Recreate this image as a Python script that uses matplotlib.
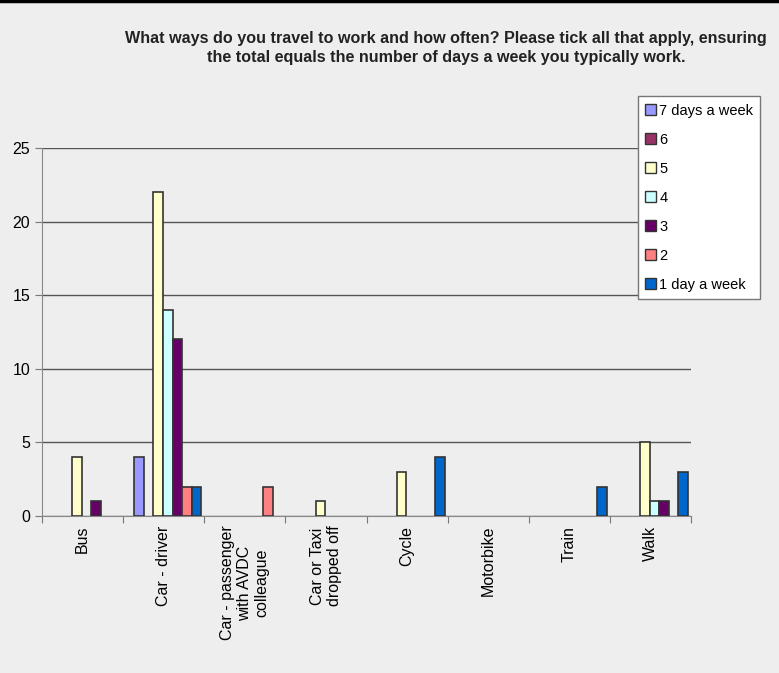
import matplotlib
matplotlib.use("Agg")
import matplotlib.pyplot as plt  # noqa: E402
from matplotlib.patches import Patch  # noqa: E402
import numpy as np  # noqa: E402

plt.rcParams["font.family"] = ["Liberation Sans", "DejaVu Sans"]

categories = ["Bus", "Car - driver", "Car - passenger\nwith AVDC\ncolleague",
              "Car or Taxi\ndropped off", "Cycle", "Motorbike", "Train", "Walk"]
series_names = ["7 days a week", "6", "5", "4", "3", "2", "1 day a week"]
days7 = [0, 4, 0, 0, 0, 0, 0, 0]
days6 = [0, 0, 0, 0, 0, 0, 0, 0]
days5 = [4, 22, 0, 1, 3, 0, 0, 5]
days4 = [0, 14, 0, 0, 0, 0, 0, 1]
days3 = [1, 12, 0, 0, 0, 0, 0, 1]
days2 = [0, 2, 2, 0, 0, 0, 0, 0]
days1 = [0, 2, 0, 0, 4, 0, 2, 3]
series = [days7, days6, days5, days4, days3, days2, days1]
colors = ["#9999FF", "#993366", "#FFFFCC", "#CCFFFF", "#660066", "#FF8080", "#0066CC"]

BG = "#EEEEEE"
EDGE = "#333333"

fig = plt.figure(figsize=(7.79, 6.73), dpi=100, facecolor=BG)
ax = fig.add_axes([0.054, 0.2333, 0.833, 0.5468], facecolor=BG)

x = np.arange(len(categories))
width = 0.118
handles = []
for i, (vals, name, c) in enumerate(zip(series, series_names, colors)):
    offs = (i - 3) * width + 0.05
    vals = np.array(vals, dtype=float)
    mask = vals > 0
    ax.bar(x[mask] + offs, vals[mask], width, color=c, edgecolor=EDGE,
           linewidth=1.2, zorder=3)
    handles.append(Patch(facecolor=c, edgecolor=EDGE, linewidth=1.0, label=name))

ax.set_xlim(-0.5, len(categories) - 0.5)
ax.set_ylim(0, 25)
ax.set_yticks(range(0, 26, 5))
ax.yaxis.grid(True, color="#555555", linewidth=1.0, zorder=0)
ax.set_xticks(np.arange(-0.5, len(categories), 1), minor=False)
ax.set_xticklabels([])
ax.set_xticks(x, minor=True)
ax.set_xticklabels(categories, minor=True, rotation=90, fontsize=11.5,
                   va="top", ha="center")
ax.tick_params(axis="x", which="minor", length=0, pad=7)
ax.tick_params(axis="x", which="major", length=5, direction="out", color="#777777")
ax.tick_params(axis="y", length=5, labelsize=11.5, color="#777777")
for side in ["top", "right"]:
    ax.spines[side].set_visible(False)
ax.spines["left"].set_color("#888888")
ax.spines["bottom"].set_color("#888888")

fig.text(0.573, 0.929,
         "What ways do you travel to work and how often? Please tick all that apply, ensuring\n"
         "the total equals the number of days a week you typically work.",
         ha="center", va="center", fontsize=11.6, fontweight="bold", color="#222222",
         linespacing=1.3)

leg = fig.legend(handles=handles, loc="upper left", bbox_to_anchor=(0.819, 0.857),
                 borderaxespad=0, frameon=True, fancybox=False, edgecolor="#777777",
                 facecolor="white", framealpha=1, fontsize=10.5, handlelength=0.7,
                 handleheight=0.7, handletextpad=0.25, labelspacing=1.03,
                 borderpad=0.5)
leg.get_frame().set_linewidth(1.0)

fig.add_artist(plt.Line2D([0, 1], [0.998, 0.998], color="black", linewidth=2.5,
                          transform=fig.transFigure))

fig.savefig("out.png", dpi=100, facecolor=BG)
